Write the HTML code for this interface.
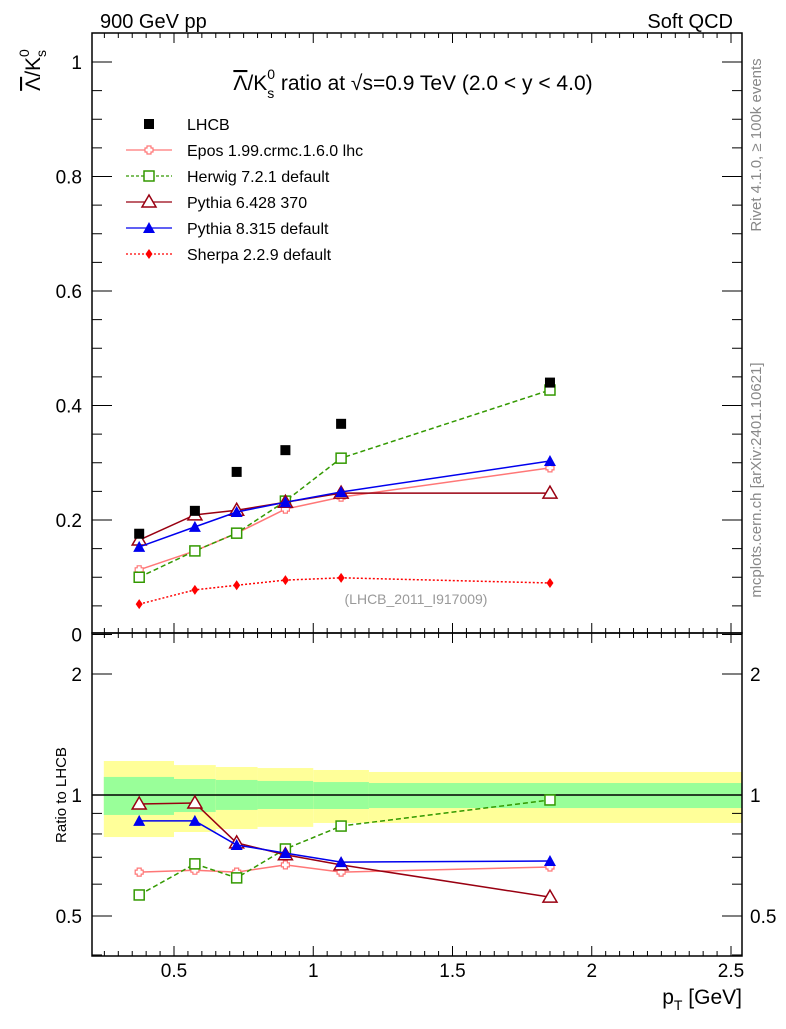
<!DOCTYPE html>
<html><head><meta charset="utf-8">
<style>
body{margin:0;background:#fff;width:786px;height:1024px;overflow:hidden}
svg{font-family:"Liberation Sans",sans-serif}
</style></head>
<body>
<svg id="c" width="786" height="1024" xmlns="http://www.w3.org/2000/svg">
<text x="100" y="28" font-size="20">900 GeV pp</text>
<text x="733" y="28" font-size="20" text-anchor="end">Soft QCD</text>
<text x="413" y="90" font-size="21" text-anchor="middle"><tspan text-decoration="overline">Λ</tspan><tspan>/K</tspan><tspan font-size="14" dy="8">s</tspan><tspan font-size="14" dx="-7" dy="-19">0</tspan><tspan dy="11"> ratio at √s=0.9 TeV (2.0 &lt; y &lt; 4.0)</tspan></text>
<text transform="translate(40,70) rotate(-90)" font-size="21" text-anchor="middle"><tspan text-decoration="overline">Λ</tspan><tspan>/K</tspan><tspan font-size="14" dy="6">s</tspan><tspan font-size="14" dx="-7" dy="-17">0</tspan></text>
<text transform="translate(66,795) rotate(-90)" font-size="15" text-anchor="middle">Ratio to LHCB</text>
<text x="742" y="1004" font-size="21" text-anchor="end">p<tspan font-size="14" dy="6">T</tspan><tspan dy="-6"> [GeV]</tspan></text>
<text transform="translate(761,145) rotate(-90)" font-size="15" fill="#888" text-anchor="middle">Rivet 4.1.0, ≥ 100k events</text>
<text transform="translate(761,480) rotate(-90)" font-size="15" fill="#888" text-anchor="middle">mcplots.cern.ch [arXiv:2401.10621]</text>
<text x="416" y="604" font-size="14" fill="#999" text-anchor="middle">(LHCB_2011_I917009)</text>
<g id="g"></g>
</svg>
<script>
const xs=[0.375,0.575,0.725,0.9,1.1,1.85];
const lhcb=[0.176,0.216,0.284,0.322,0.368,0.44];
const epos=[0.113,0.146,0.177,0.219,0.24,0.291];
const herwig=[0.1,0.146,0.177,0.233,0.308,0.427];
const py6=[0.165,0.209,0.217,0.231,0.247,0.247];
const py8=[0.153,0.188,0.214,0.231,0.249,0.303];
const sherpa=[0.053,0.078,0.086,0.095,0.099,0.09];
const rEpos=[0.643,0.65,0.643,0.67,0.643,0.662];
const rHerwig=[0.564,0.674,0.622,0.734,0.837,0.972];
const rPy6=[0.95,0.955,0.76,0.71,0.67,0.557];
const rPy8=[0.862,0.862,0.751,0.717,0.681,0.685];
const binEdges=[0.248,0.5,0.65,0.8,1.0,1.2,2.54];
const yelHi=[1.215,1.187,1.174,1.167,1.154,1.141];
const yelLo=[0.786,0.809,0.823,0.833,0.852,0.852];
const grnHi=[1.109,1.096,1.09,1.084,1.077,1.071];
const grnLo=[0.892,0.907,0.918,0.923,0.923,0.928];
const xTicks=[0.5,1,1.5,2,2.5];
const xTickLabels=["0.5","1","1.5","2","2.5"];
const yTicks=[0,0.2,0.4,0.6,0.8,1];
const yTickLabels=["0","0.2","0.4","0.6","0.8","1"];
const rTicks=[0.5,1,2];
const rTickLabels=["0.5","1","2"];

const L=92,R=742,T=33,M=633,B=956;
const X=v=>34.75+278.5*v;
const Y=v=>634.5-572.5*v;
const RY=v=>795-121*Math.log2(v);
const g=document.getElementById('g');
const NS="http://www.w3.org/2000/svg";
function el(t,a,p){const e=document.createElementNS(NS,t);for(const k in a)e.setAttribute(k,a[k]);(p||g).appendChild(e);return e;}

for(let i=0;i<yelHi.length;i++){
 const r=el('rect',{x:X(binEdges[i]),y:RY(yelHi[i]),width:X(binEdges[i+1])-X(binEdges[i]),height:RY(yelLo[i])-RY(yelHi[i]),fill:'#ffff99'});
 
 
 const q=el('rect',{x:X(binEdges[i]),y:RY(grnHi[i]),width:X(binEdges[i+1])-X(binEdges[i]),height:RY(grnLo[i])-RY(grnHi[i]),fill:'#99ff99'});
 
 
}
el('line',{x1:L,x2:R,y1:RY(1),y2:RY(1),stroke:'#000','stroke-width':1.5});

el('rect',{x:L,y:T,width:R-L,height:M-T,fill:'none',stroke:'#000','stroke-width':1.5});
el('rect',{x:L,y:M,width:R-L,height:B-M,fill:'none',stroke:'#000','stroke-width':1.5});

for(let v=0.25;v<=2.5001;v+=0.05){
 const big=Math.abs(v*2-Math.round(v*2))<1e-6;const len=big?10:5;const x=X(v);
 if(x<L||x>R)continue;
 el('line',{x1:x,x2:x,y1:T,y2:T+len,stroke:'#000'});
 el('line',{x1:x,x2:x,y1:M,y2:M-len,stroke:'#000'});
 el('line',{x1:x,x2:x,y1:M,y2:M+len,stroke:'#000'});
 el('line',{x1:x,x2:x,y1:B,y2:B-len,stroke:'#000'});
}
xTicks.forEach((v,i)=>{const t=el('text',{x:X(v),y:977,'font-size':19,'text-anchor':'middle'});t.textContent=xTickLabels[i];
 
 });
for(let v=0;v<=1.05;v+=0.05){const big=Math.abs(v*5-Math.round(v*5))<1e-6;const len=big?20:10;const y=Y(v);
 el('line',{x1:L,x2:L+len,y1:y,y2:y,stroke:'#000'});el('line',{x1:R,x2:R-len,y1:y,y2:y,stroke:'#000'});}
yTicks.forEach((v,i)=>{const t=el('text',{x:82,y:Y(v)+7,'font-size':19,'text-anchor':'end'});t.textContent=yTickLabels[i];
 
 });
[0.4,0.5,0.6,0.7,0.8,0.9,1,2].forEach(v=>{const big=rTicks.includes(v);const len=big?20:10;const y=RY(v);
 if(y>B)return;
 el('line',{x1:L,x2:L+len,y1:y,y2:y,stroke:'#000'});el('line',{x1:R,x2:R-len,y1:y,y2:y,stroke:'#000'});});
rTicks.forEach((v,i)=>{
 const t=el('text',{x:82,y:RY(v)+7,'font-size':19,'text-anchor':'end'});t.textContent=rTickLabels[i];
 
 
 const t2=el('text',{x:750,y:RY(v)+7,'font-size':19});t2.textContent=rTickLabels[i];
 
 });

function marker(type,x,y,col){
 if(type==='sq')el('rect',{x:x-5,y:y-5,width:10,height:10,fill:'#000'});
 else if(type==='osq')el('rect',{x:x-5,y:y-5,width:10,height:10,fill:'#fff',stroke:col,'stroke-width':1.5});
 else if(type==='otri')el('polygon',{points:`${x},${y-7} ${x-7},${y+5} ${x+7},${y+5}`,fill:'#fff',stroke:col,'stroke-width':1.5});
 else if(type==='tri')el('polygon',{points:`${x},${y-6} ${x-6},${y+5} ${x+6},${y+5}`,fill:col});
 else if(type==='dia')el('polygon',{points:`${x},${y-5} ${x-3.5},${y} ${x},${y+5} ${x+3.5},${y}`,fill:col});
 else if(type==='cross')el('path',{d:`M${x-2},${y-4}h4v2h2v4h-2v2h-4v-2h-2v-4h2z`,fill:'#fff',stroke:col,'stroke-width':1.2});
}
function series(name,xv,yv,f,col,dash,mk){
 const pts=xv.map((v,i)=>X(v)+','+f(yv[i])).join(' ');
 const p=el('polyline',{points:pts,fill:'none',stroke:col,'stroke-width':1.5,'stroke-dasharray':dash||'none'});
 
 
 xv.forEach((v,i)=>marker(mk,X(v),f(yv[i]),col));
}
const S=[['epos',epos,rEpos,'#ff7777','','cross'],['herwig',herwig,rHerwig,'#339900','5,3','osq'],
 ['pythia6',py6,rPy6,'#990011','','otri'],['pythia8',py8,rPy8,'#0000ee','','tri']];
S.forEach(s=>{series(s[0],xs,s[1],Y,s[3],s[4],s[5]);series(s[0]+'-ratio',xs,s[2],RY,s[3],s[4],s[5]);});
series('sherpa',xs,sherpa,Y,'#ff0000','2,2','dia');
xs.forEach((v,i)=>{const r=el('rect',{x:X(v)-5,y:Y(lhcb[i])-5,width:10,height:10,fill:'#000'});
 
 });

const leg=[['LHCB','#000','','sq'],['Epos 1.99.crmc.1.6.0 lhc','#ff7777','','cross'],['Herwig 7.2.1 default','#339900','3,2','osq'],
 ['Pythia 6.428 370','#990011','','otri'],['Pythia 8.315 default','#0000ee','','tri'],['Sherpa 2.2.9 default','#ff0000','2,2','dia']];
leg.forEach((e,i)=>{const y=124+26*i;
 if(i>0)el('line',{x1:126,x2:172,y1:y,y2:y,stroke:e[1],'stroke-width':1.3,'stroke-dasharray':e[2]||'none'});
 marker(e[3],149,y,e[1]);
 const t=el('text',{x:187,y:y+6,'font-size':16});t.textContent=e[0];
 
 });
</script>
</body></html>
